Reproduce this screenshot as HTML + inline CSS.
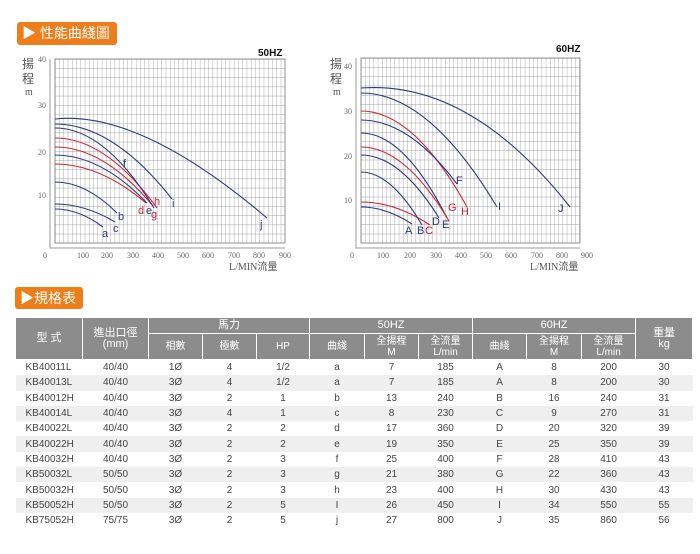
<!DOCTYPE html>
<html><head><meta charset="utf-8"><style>
body{margin:0;background:#fff;width:700px;height:554px;overflow:hidden;font-family:"Liberation Sans","Noto Sans CJK TC",sans-serif}
.btn{position:absolute;background:#ee7d1a;color:#fff;border-radius:3px;font-size:14px;line-height:23px;padding:0 0 0 5px;white-space:nowrap;overflow:hidden}
table{position:absolute;left:15px;top:317px;width:677px;border-collapse:collapse;font-size:10px;color:#444;table-layout:fixed}
th{background:#8c8c8c;color:#fff;font-weight:normal;border:1px solid #fff;line-height:11px;padding:0}
td{text-align:center;height:15.3px;padding:0;line-height:15px}
tr.s td{background:#efefef}
td:first-child{text-align:left;padding-left:10px}
</style></head><body>
<div class="btn" style="left:17px;top:22px;width:95px;height:23px">▶ 性能曲綫圖</div>
<div class="btn" style="left:15px;top:287px;width:63px;height:22px">▶規格表</div>
<svg width="700" height="300" style="position:absolute;left:0;top:0" font-family="Liberation Serif,serif">
<defs>
<pattern id="g1" x="55" y="59" width="4.26" height="9.2" patternUnits="userSpaceOnUse"><path d="M0 0V9.2M0 0H4.26" stroke="#888" stroke-width="0.7" fill="none"/></pattern>
<pattern id="g2" x="361" y="58" width="4.2" height="9.25" patternUnits="userSpaceOnUse"><path d="M0 0V9.25M0 0H4.2" stroke="#888" stroke-width="0.7" fill="none"/></pattern>
</defs>
<rect x="55" y="59" width="230" height="184" fill="url(#g1)" stroke="#777" stroke-width="0.8"/>
<path d="M50 59V248H285" stroke="#999" fill="none"/>
<rect x="361" y="58" width="219" height="185" fill="url(#g2)" stroke="#777" stroke-width="0.8"/>
<path d="M356 58V248H580" stroke="#999" fill="none"/>
<g font-size="8" fill="#666">
<text x="38" y="62">40</text><text x="38" y="108">30</text><text x="38" y="155">20</text><text x="38" y="198">10</text>
<text x="43" y="258">0</text><text x="77" y="258">100</text><text x="101" y="258">200</text><text x="127" y="258">300</text><text x="152" y="258">400</text><text x="177" y="258">500</text><text x="202" y="258">600</text><text x="228" y="258">700</text><text x="253" y="258">800</text><text x="279" y="258">900</text>
<text x="344" y="69">40</text><text x="344" y="114">30</text><text x="344" y="159">20</text><text x="344" y="203">10</text>
<text x="350" y="258">0</text><text x="377" y="258">100</text><text x="404" y="258">200</text><text x="430" y="258">300</text><text x="455" y="258">400</text><text x="480" y="258">500</text><text x="505" y="258">600</text><text x="531" y="258">700</text><text x="556" y="258">800</text><text x="581" y="258">900</text>
</g>
<g font-size="12" fill="#555"><text x="22" y="68">揚</text><text x="22" y="83">程</text><text x="25" y="95" font-size="10">m</text>
<text x="330" y="68">揚</text><text x="330" y="83">程</text><text x="333" y="95" font-size="10">m</text>
<text x="229" y="270" font-size="10">L/MIN流量</text><text x="530" y="270" font-size="10">L/MIN流量</text></g>
<g font-family="Liberation Sans,sans-serif" font-weight="bold" font-size="10" fill="#111"><text x="258" y="56">50HZ</text><text x="556" y="52">60HZ</text></g>
<g fill="none" stroke-width="1.1">
<path stroke="#2a3a78" d="M55 209Q79 209 103 227"/>
<path stroke="#2a3a78" d="M55 204Q85 204 115 222"/>
<path stroke="#2a3a78" d="M55 182Q86 182 117 213"/>
<path stroke="#c8283c" d="M55 164Q100 164 146 203"/>
<path stroke="#2a3a78" d="M55 155Q101 155 147 203"/>
<path stroke="#c8283c" d="M55 147Q104 147 153 206"/>
<path stroke="#c8283c" d="M55 138Q106 138 157 208"/>
<path stroke="#2a3a78" d="M55 128Q105 128 154 208"/>
<path stroke="#2a3a78" d="M55 124Q113 124 172 199"/>
<path stroke="#2a3a78" d="M55 119Q140 110 267 218"/>
<path stroke="#2a3a78" d="M361 207Q386 207 412 224"/>
<path stroke="#c8283c" d="M361 202Q395 202 430 225"/>
<path stroke="#2a3a78" d="M361 172Q391 172 422 225"/>
<path stroke="#2a3a78" d="M361 155Q400 155 439 218"/>
<path stroke="#2a3a78" d="M361 133Q404 133 447 218"/>
<path stroke="#c8283c" d="M361 147Q405 147 449 221"/>
<path stroke="#c8283c" d="M361 111Q414 111 467 207"/>
<path stroke="#2a3a78" d="M361 120Q409 120 457 184"/>
<path stroke="#2a3a78" d="M361 93Q429 93 497 207"/>
<path stroke="#2a3a78" d="M361 88Q470 80 570 207"/>
</g>
<g font-family="Liberation Sans,sans-serif" font-size="11" fill="#2a3a78">
<text x="102" y="237">a</text><text x="113" y="232">c</text><text x="118" y="220">b</text><text x="123" y="167">f</text>
<text x="146" y="214">e</text><text x="172" y="207">i</text><text x="260" y="228">j</text>
<text x="405" y="234">A</text><text x="417" y="234">B</text><text x="432" y="225">D</text><text x="442" y="228">E</text><text x="456" y="184">F</text><text x="498" y="210">I</text><text x="558" y="212">J</text>
<g fill="#c8283c"><text x="138" y="214">d</text><text x="151" y="218">g</text><text x="154" y="205">h</text>
<text x="425" y="234">C</text><text x="448" y="211">G</text><text x="461" y="215">H</text></g>
</g>
</svg>
<table>
<colgroup><col style="width:67px"><col style="width:66px"><col style="width:54px"><col style="width:54px"><col style="width:53px"><col style="width:55px"><col style="width:54px"><col style="width:54px"><col style="width:54px"><col style="width:55px"><col style="width:54px"><col style="width:57px"></colgroup>
<tr style="height:16px"><th rowspan="2" style="font-size:11px">型 式</th><th rowspan="2" style="font-size:11px">進出口徑<br>(mm)</th><th colspan="3" style="font-size:11px">馬力</th><th colspan="3" style="font-size:11px">50HZ</th><th colspan="3" style="font-size:11px">60HZ</th><th rowspan="2" style="font-size:11px">重量<br>kg</th></tr>
<tr style="height:26px"><th>相數</th><th>極數</th><th>HP</th><th>曲綫</th><th>全揚程<br>M</th><th>全流量<br>L/min</th><th>曲綫</th><th>全揚程<br>M</th><th>全流量<br>L/min</th></tr>
<tr><td>KB40011L</td><td>40/40</td><td>1Ø</td><td>4</td><td>1/2</td><td>a</td><td>7</td><td>185</td><td>A</td><td>8</td><td>200</td><td>30</td></tr>
<tr class="s"><td>KB40013L</td><td>40/40</td><td>3Ø</td><td>4</td><td>1/2</td><td>a</td><td>7</td><td>185</td><td>A</td><td>8</td><td>200</td><td>30</td></tr>
<tr><td>KB40012H</td><td>40/40</td><td>3Ø</td><td>2</td><td>1</td><td>b</td><td>13</td><td>240</td><td>B</td><td>16</td><td>240</td><td>31</td></tr>
<tr class="s"><td>KB40014L</td><td>40/40</td><td>3Ø</td><td>4</td><td>1</td><td>c</td><td>8</td><td>230</td><td>C</td><td>9</td><td>270</td><td>31</td></tr>
<tr><td>KB40022L</td><td>40/40</td><td>3Ø</td><td>2</td><td>2</td><td>d</td><td>17</td><td>360</td><td>D</td><td>20</td><td>320</td><td>39</td></tr>
<tr class="s"><td>KB40022H</td><td>40/40</td><td>3Ø</td><td>2</td><td>2</td><td>e</td><td>19</td><td>350</td><td>E</td><td>25</td><td>350</td><td>39</td></tr>
<tr><td>KB40032H</td><td>40/40</td><td>3Ø</td><td>2</td><td>3</td><td>f</td><td>25</td><td>400</td><td>F</td><td>28</td><td>410</td><td>43</td></tr>
<tr class="s"><td>KB50032L</td><td>50/50</td><td>3Ø</td><td>2</td><td>3</td><td>g</td><td>21</td><td>380</td><td>G</td><td>22</td><td>360</td><td>43</td></tr>
<tr><td>KB50032H</td><td>50/50</td><td>3Ø</td><td>2</td><td>3</td><td>h</td><td>23</td><td>400</td><td>H</td><td>30</td><td>430</td><td>43</td></tr>
<tr class="s"><td>KB50052H</td><td>50/50</td><td>3Ø</td><td>2</td><td>5</td><td>I</td><td>26</td><td>450</td><td>I</td><td>34</td><td>550</td><td>55</td></tr>
<tr><td>KB75052H</td><td>75/75</td><td>3Ø</td><td>2</td><td>5</td><td>j</td><td>27</td><td>800</td><td>J</td><td>35</td><td>860</td><td>56</td></tr>
</table>
</body></html>
